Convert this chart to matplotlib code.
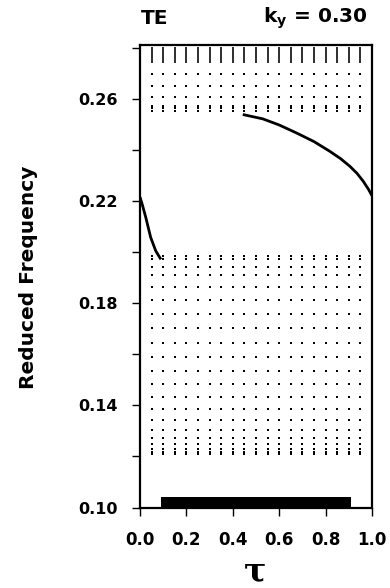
import matplotlib
matplotlib.use("Agg")
import matplotlib.pyplot as plt
import numpy as np

# ---- data ----
dot_tau = [0.05, 0.10, 0.15, 0.20, 0.25, 0.30, 0.35, 0.40, 0.45, 0.50,
           0.55, 0.60, 0.65, 0.70, 0.75, 0.80, 0.85, 0.90, 0.95]
lower_band_freq = [0.1985, 0.1973, 0.1942, 0.1908, 0.1864, 0.1812, 0.1758, 0.1701,
                   0.1645, 0.1589, 0.1535, 0.1483, 0.1431, 0.1385, 0.1341,
                   0.1303, 0.1273, 0.1248, 0.1228, 0.1216, 0.1210]
upper_band_freq = [0.2550, 0.2562, 0.2573, 0.2607, 0.2648, 0.2698]
upper_dense_freq = [0.2742, 0.2750, 0.2758, 0.2766, 0.2774, 0.2782, 0.2790, 0.2798]

curve1_tau = [0.0, 0.01, 0.025, 0.046, 0.068, 0.09]
curve1_freq = [0.2215, 0.2185, 0.2135, 0.2057, 0.2004, 0.1971]

curve2_tau = [0.443, 0.529, 0.60, 0.674, 0.75, 0.818, 0.865, 0.905, 0.935, 0.962, 0.985, 1.0]
curve2_freq = [0.2538, 0.2521, 0.2497, 0.2466, 0.2432, 0.2394, 0.2365, 0.2335, 0.2308, 0.2277, 0.2245, 0.2220]

gap_tau = [0.09, 0.91]
gap_freq = [0.100, 0.1042]

x_ticks = [0.0, 0.2, 0.4, 0.6, 0.8, 1.0]
y_major = [0.10, 0.14, 0.18, 0.22, 0.26]
y_minor = [0.12, 0.16, 0.20, 0.24, 0.28]

# ---- figure ----
fig = plt.figure(figsize=(3.9, 5.88), dpi=100)
ax = fig.add_axes([140/390, 1 - 507.5/588, (372 - 140)/390, (507.5 - 45)/588])

TT, FF = np.meshgrid(dot_tau, lower_band_freq)
ax.scatter(TT.ravel(), FF.ravel(), s=1.6, marker='s', color='black', linewidths=0)
TT, FF = np.meshgrid(dot_tau, upper_band_freq)
ax.scatter(TT.ravel(), FF.ravel(), s=1.6, marker='s', color='black', linewidths=0)
TT, FF = np.meshgrid(dot_tau, upper_dense_freq)
ax.scatter(TT.ravel(), FF.ravel(), s=1.0, marker='s', color='#333333', linewidths=0)

ax.plot(curve1_tau, curve1_freq, color='black', lw=2.0, solid_capstyle='butt')
ax.plot(curve2_tau, curve2_freq, color='black', lw=2.0, solid_capstyle='butt')

ax.fill_between(gap_tau, gap_freq[0], gap_freq[1], color='black', linewidth=0)

ax.set_xlim(0, 1.0)
ax.set_ylim(0.10, 0.281)
ax.set_xticks(x_ticks)
ax.set_xticklabels([f"{v:.1f}" for v in x_ticks])
ax.set_yticks(y_major)
ax.set_yticklabels([f"{v:.2f}" for v in y_major])
ax.set_yticks(y_minor, minor=True)

for sp in ax.spines.values():
    sp.set_linewidth(1.6)

ax.tick_params(axis='y', which='major', direction='out', length=6, width=1.0,
               labelsize=11.5, pad=10)
ax.tick_params(axis='x', which='major', direction='out', length=6, width=1.0,
               labelsize=12, pad=11)
ax.tick_params(axis='y', which='minor', direction='out', length=6, width=1.0)
for lab in ax.get_xticklabels() + ax.get_yticklabels():
    lab.set_fontweight('bold')
    lab.set_family('DejaVu Sans')

ax.set_ylabel("Reduced Frequency", fontsize=14.5, fontweight='bold')
ax.yaxis.set_label_coords(-(140 - 38) / 232, (507.5 - 277) / 462.5)
ax.set_xlabel("τ", fontsize=24, family='DejaVu Serif', fontweight='bold')
ax.xaxis.set_label_coords((255 - 140) / 232, -(572 - 507.5) / 462.5)
ax.xaxis.label.set_va('center')

fig.text(141/390, 1 - 18/588, "TE", fontsize=14.5, fontweight='bold', va='center', ha='left')
fig.text(368/390, 1 - 18/588, r"k$_\mathbf{y}$ = 0.30", fontsize=14.5, fontweight='bold',
         va='center', ha='right')

fig.savefig("out.png", dpi=100)
